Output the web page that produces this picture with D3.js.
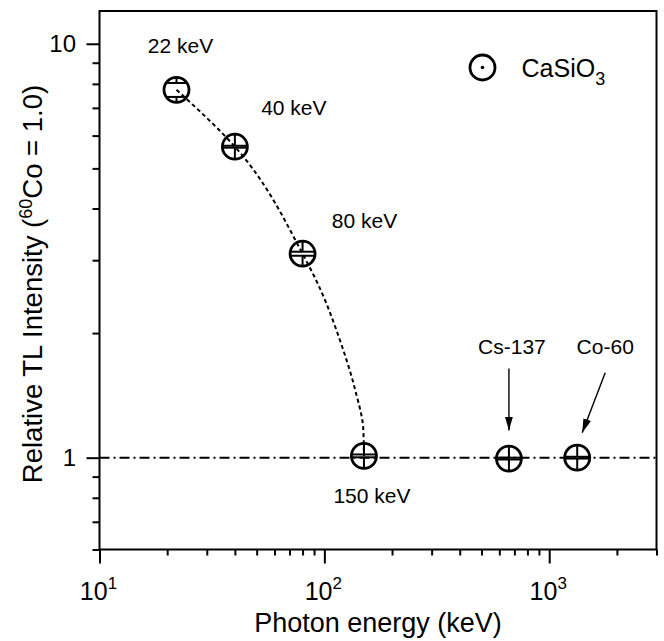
<!DOCTYPE html>
<html>
<head>
<meta charset="utf-8">
<script src="https://cdn.jsdelivr.net/npm/d3@7/dist/d3.min.js"></script>
<style>
  body { margin: 0; background: #fff; }
  svg { display: block; }
  text { font-family: "Liberation Sans", Arial, sans-serif; fill: #000; }
</style>
</head>
<body>
<script>
// Relative TL response of CaSiO3 versus photon energy
const energy = [22, 40, 80, 150, 662, 1332];          // keV
const intensity = [7.74, 5.64, 3.11, 1.01, 0.995, 1.0]; // relative to 60Co
const intensityErr = [0.30, 0.03, 0.035, 0.008, 0.005, 0.005];
const pointLabels = ["22 keV", "40 keV", "80 keV", "150 keV", "Cs-137", "Co-60"];

// guide curve through the low-energy points
const curveEnergy = [22, 40, 80, 96, 117, 137, 149, 150];
const curveIntensity = [7.74, 5.64, 3.11, 2.55, 1.93, 1.46, 1.17, 1.01];

const referenceLevel = 1.0;

// axis ticks
const xMajorTicks = [10, 100, 1000];
const xMajorExponents = ["1", "2", "3"];
const xMinorTicks = [20, 30, 40, 50, 60, 70, 80, 90, 200, 300, 400, 500, 600, 700, 800, 900, 2000, 3000];
const yMajorTicks = [1, 10];
const yMinorTicks = [0.6, 0.7, 0.8, 0.9, 2, 3, 4, 5, 6, 7, 8, 9];

const W = 664, H = 641;
const plotL = 99.5, plotR = 656.5, plotT = 11, plotB = 549.5;

const svg = d3.select("body").append("svg").attr("width", W).attr("height", H);

const x = d3.scaleLog().domain([10, 3000]).range([plotL, plotR]);
const y = d3.scaleLog().domain([0.6, 12]).range([plotB, plotT]);

// axes
function styleAxis(g) {
  g.select(".domain").remove();
  g.selectAll(".tick line").attr("stroke", "#000").attr("stroke-width", 2);
  g.selectAll(".tick text").remove();
}
svg.append("g").attr("transform", `translate(0,${plotB})`)
  .call(d3.axisBottom(x).tickValues(xMinorTicks).tickSize(6).tickFormat(""))
  .call(styleAxis);
svg.append("g").attr("transform", `translate(0,${plotB})`)
  .call(d3.axisBottom(x).tickValues(xMajorTicks).tickSize(14).tickFormat(""))
  .call(styleAxis);
svg.append("g").attr("transform", `translate(${plotL},0)`)
  .call(d3.axisLeft(y).tickValues(yMinorTicks).tickSize(7).tickFormat(""))
  .call(styleAxis);
svg.append("g").attr("transform", `translate(${plotL},0)`)
  .call(d3.axisLeft(y).tickValues(yMajorTicks).tickSize(13).tickFormat(""))
  .call(styleAxis);

// frame
svg.append("rect")
  .attr("x", plotL).attr("y", plotT)
  .attr("width", plotR - plotL).attr("height", plotB - plotT)
  .attr("fill", "none").attr("stroke", "#000").attr("stroke-width", 2);

// x tick labels: 10 with superscript exponent
xMajorTicks.forEach((v, i) => {
  const t = svg.append("text")
    .attr("x", x(v) - 1).attr("y", plotB + 50)
    .attr("text-anchor", "middle")
    .attr("font-size", 25);
  t.append("tspan").text("10");
  t.append("tspan").attr("font-size", 17).attr("dy", -11).text(xMajorExponents[i]);
});

// y tick labels
yMajorTicks.forEach(v => {
  svg.append("text")
    .attr("x", plotL - 23.5).attr("y", y(v) + 8.5)
    .attr("text-anchor", "end")
    .attr("font-size", 24)
    .text(d3.format("d")(v));
});

// axis titles
svg.append("text")
  .attr("x", (plotL + plotR) / 2).attr("y", 632)
  .attr("text-anchor", "middle")
  .attr("font-size", 27)
  .text("Photon energy (keV)");

const yTitle = svg.append("text")
  .attr("transform", "translate(42,284) rotate(-90)")
  .attr("text-anchor", "middle")
  .attr("font-size", 27.5);
yTitle.append("tspan").text("Relative TL Intensity (");
yTitle.append("tspan").attr("font-size", 18).attr("dy", -10).text("60");
yTitle.append("tspan").attr("dy", 10).text("Co = 1.0)");

// reference line at unity
svg.append("line")
  .attr("x1", plotL).attr("x2", plotR)
  .attr("y1", y(referenceLevel)).attr("y2", y(referenceLevel))
  .attr("stroke", "#000").attr("stroke-width", 2)
  .attr("stroke-dasharray", "10,4,2,4");

// guide curve
const curveData = curveEnergy.map((e, i) => [e, curveIntensity[i]]);
svg.append("path")
  .datum(curveData)
  .attr("d", d3.line().x(d => x(d[0])).y(d => y(d[1])).curve(d3.curveMonotoneY))
  .attr("fill", "none").attr("stroke", "#000").attr("stroke-width", 2)
  .attr("stroke-dasharray", "4,3");

// markers with error bars
const r = 12.5;
energy.forEach((e, i) => {
  const cx = x(e), cy = y(intensity[i]);
  const g = svg.append("g");
  const dUp = cy - y(intensity[i] + intensityErr[i]);
  const dDn = y(intensity[i] - intensityErr[i]) - cy;
  const chord = d => Math.sqrt(Math.max(0, r * r - d * d));
  // vertical bar segments outside the caps
  g.append("line").attr("x1", cx).attr("x2", cx).attr("y1", cy - r).attr("y2", cy - dUp)
    .attr("stroke", "#000").attr("stroke-width", 2);
  g.append("line").attr("x1", cx).attr("x2", cx).attr("y1", cy + dDn).attr("y2", cy + r)
    .attr("stroke", "#000").attr("stroke-width", 2);
  // caps
  [[-dUp, chord(dUp)], [dDn, chord(dDn)]].forEach(([d, h]) => {
    g.append("line").attr("x1", cx - h).attr("x2", cx + h)
      .attr("y1", cy + d).attr("y2", cy + d)
      .attr("stroke", "#000").attr("stroke-width", 2);
  });
  g.append("circle").attr("cx", cx).attr("cy", cy).attr("r", r)
    .attr("fill", "none").attr("stroke", "#000").attr("stroke-width", 2.8);
});

// point labels
const labelOffsets = [[4, -37], [59, -32], [62, -26], [8, 47], [3, -105], [28, -104]];
pointLabels.forEach((t, i) => {
  svg.append("text")
    .attr("x", x(energy[i]) + labelOffsets[i][0])
    .attr("y", y(intensity[i]) + labelOffsets[i][1])
    .attr("text-anchor", "middle")
    .attr("font-size", 21)
    .text(t);
});

// arrows for the isotope sources
svg.append("defs").append("marker")
  .attr("id", "head").attr("viewBox", "0 0 14 8")
  .attr("refX", 14).attr("refY", 4)
  .attr("markerUnits", "userSpaceOnUse")
  .attr("markerWidth", 14).attr("markerHeight", 8)
  .attr("orient", "auto")
  .append("path").attr("d", "M0,0 L14,4 L0,8 Z").attr("fill", "#000");

const arrows = [
  { i: 4, dx0: 0, dy0: -90, dx1: 0, dy1: -28 },
  { i: 5, dx0: 28, dy0: -85, dx1: 5, dy1: -25 }
];
arrows.forEach(a => {
  const cx = x(energy[a.i]), cy = y(intensity[a.i]);
  svg.append("line")
    .attr("x1", cx + a.dx0).attr("y1", cy + a.dy0)
    .attr("x2", cx + a.dx1).attr("y2", cy + a.dy1)
    .attr("stroke", "#000").attr("stroke-width", 1.4)
    .attr("marker-end", "url(#head)");
});

// legend
const lg = svg.append("g").attr("transform", "translate(482.5,67.5)");
lg.append("circle").attr("r", r).attr("fill", "none").attr("stroke", "#000").attr("stroke-width", 2.8);
lg.append("circle").attr("r", 1.8).attr("fill", "#000");
const lt = lg.append("text").attr("x", 39).attr("y", 9).attr("font-size", 25);
lt.append("tspan").text("CaSiO");
lt.append("tspan").attr("font-size", 18).attr("dy", 8).text("3");
</script>
</body>
</html>
